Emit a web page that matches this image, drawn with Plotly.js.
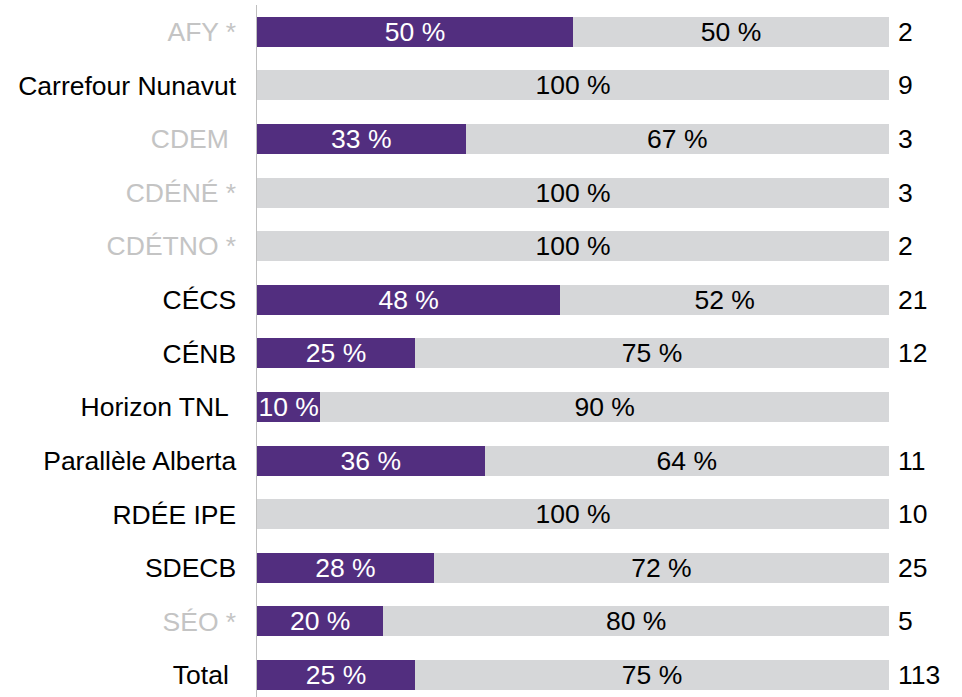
<!DOCTYPE html>
<html>
<head>
<meta charset="utf-8">
<script src="https://cdn.plot.ly/plotly-3.0.1.min.js"></script>
<style>html,body{margin:0;padding:0;background:#fff;}#chart{width:962px;height:697px;}</style>
</head>
<body>
<div id="chart"></div>
<script>
const categories = ['AFY *','Carrefour Nunavut','CDEM','CDÉNÉ *','CDÉTNO *','CÉCS','CÉNB','Horizon TNL','Parallèle Alberta','RDÉE IPE','SDECB','SÉO *','Total'];
const trailingSpace = [false,false,true,false,false,false,false,true,false,false,false,false,true];
const muted = [true,false,true,true,true,false,false,false,false,false,false,true,false];
const purpleValues = [50,0,33,0,0,48,25,10,36,0,28,20,25];
const greyValues = [50,100,67,100,100,52,75,90,64,100,72,80,75];
const counts = ['2','9','3','3','2','21','12','','11','10','25','5','113'];

const PURPLE = '#522e7f';
const GREY = '#d6d7d9';
const FONT = 'Liberation Sans, Arial, sans-serif';
const FS = 26.5;

const pct = v => v > 0 ? v + ' %' : '';

const tickText = categories.map((c, i) => {
  const t = c + (trailingSpace[i] ? '\u00a0' : '');
  return muted[i] ? '<span style="color:#c4c4c4">' + t + '</span>' : t;
});

const traces = [
  {
    type: 'bar', orientation: 'h', y: categories, x: purpleValues,
    marker: {color: PURPLE}, width: 0.56,
    text: purpleValues.map(pct), textposition: 'inside', insidetextanchor: 'middle',
    textangle: 0, constraintext: 'none',
    insidetextfont: {family: FONT, size: FS, color: '#ffffff'},
    hoverinfo: 'skip'
  },
  {
    type: 'bar', orientation: 'h', y: categories, x: greyValues,
    marker: {color: GREY}, width: 0.56,
    text: greyValues.map(pct), textposition: 'inside', insidetextanchor: 'middle',
    textangle: 0, constraintext: 'none',
    insidetextfont: {family: FONT, size: FS, color: '#000000'},
    hoverinfo: 'skip'
  }
];

const annotations = categories.map((c, i) => ({
  x: 100, y: c, xref: 'x', yref: 'y', text: counts[i],
  xanchor: 'left', yanchor: 'middle', xshift: 7, showarrow: false,
  font: {family: FONT, size: FS, color: '#000000'}
}));

const layout = {
  width: 962, height: 697,
  margin: {l: 257, r: 73, t: 5, b: 0},
  barmode: 'stack', showlegend: false,
  paper_bgcolor: '#ffffff', plot_bgcolor: '#ffffff',
  font: {family: FONT, size: FS, color: '#000000'},
  xaxis: {range: [0, 100], visible: false, fixedrange: true},
  yaxis: {
    type: 'category', categoryorder: 'array', categoryarray: categories,
    range: [12.41, -0.5],
    tickvals: categories, ticktext: tickText,
    ticks: '', showgrid: false, zeroline: false,
    showline: true, linecolor: '#bfbfbf', linewidth: 1.5,
    ticklabelstandoff: 14,
    tickfont: {family: FONT, size: FS, color: '#000000'}
  },
  annotations: annotations
};

Plotly.newPlot('chart', traces, layout, {displayModeBar: false, staticPlot: true});
</script>
</body>
</html>
